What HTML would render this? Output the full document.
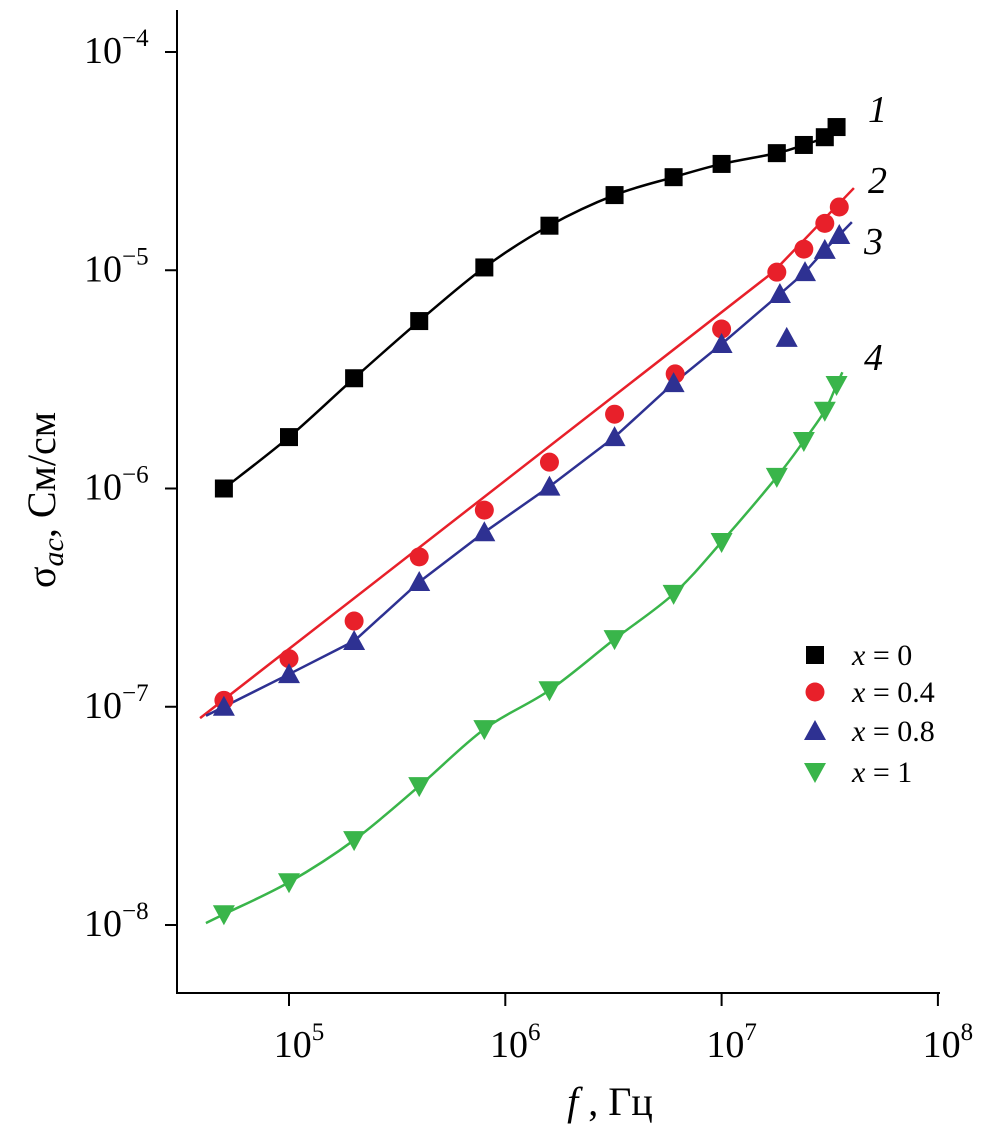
<!DOCTYPE html>
<html><head><meta charset="utf-8"><style>
body{margin:0;background:#fff}
svg, svg text{font-family:"Liberation Serif","Times New Roman",Times,serif}
</style></head><body>
<svg id="chart" width="1004" height="1130" viewBox="0 0 1004 1130" xmlns="http://www.w3.org/2000/svg" font-family="'Liberation Serif', 'Times New Roman', serif">
<g id="axes"></g>
<g id="plot"></g>
<g id="legend"></g>
</svg>
<script>
const xTickExp=[5,6,7,8];
const yTickExp=[-4,-5,-6,-7,-8];
const f1=[5e4,1e5,2e5,4e5,8e5,1.6e6,3.2e6,6e6,1e7,1.8e7,2.4e7,3e7,3.4e7];
const s1=[1.0e-6,1.72e-6,3.2e-6,5.85e-6,1.03e-5,1.6e-5,2.21e-5,2.67e-5,3.07e-5,3.44e-5,3.75e-5,4.07e-5,4.53e-5];
const f2=[5e4,1e5,2e5,4e5,8e5,1.6e6,3.2e6,6.1e6,1e7,1.8e7,2.4e7,3e7,3.5e7];
const s2=[1.07e-7,1.66e-7,2.47e-7,4.86e-7,7.96e-7,1.32e-6,2.19e-6,3.35e-6,5.38e-6,9.8e-6,1.25e-5,1.64e-5,1.95e-5];
const fit2F=[3.88e4,1.73e7,4.09e7];
const fit2S=[8.87e-8,9.8e-6,2.38e-5];
const f3=[5e4,1e5,2e5,4e5,8e5,1.6e6,3.2e6,6e6,1e7,1.86e7,2.0e7,2.43e7,3e7,3.5e7];
const s3=[1.0e-7,1.41e-7,2.0e-7,3.73e-7,6.3e-7,1.02e-6,1.72e-6,3.04e-6,4.59e-6,7.78e-6,4.9e-6,9.8e-6,1.24e-5,1.45e-5];
const f4=[5e4,1e5,2e5,4e5,8e5,1.6e6,3.2e6,6e6,1e7,1.8e7,2.4e7,3e7,3.4e7];
const s4=[1.12e-8,1.57e-8,2.45e-8,4.33e-8,7.9e-8,1.19e-7,2.04e-7,3.29e-7,5.69e-7,1.13e-6,1.65e-6,2.27e-6,2.98e-6];

const NS="http://www.w3.org/2000/svg";
const FF="Liberation Serif, Times New Roman, serif";
function X(f){return 289+(Math.log10(f)-5)*216.3;}
function Y(s){return 925-(Math.log10(s)+8)*218.25;}
function mk(tag,attrs,parent){const e=document.createElementNS(NS,tag);for(const k in attrs)e.setAttribute(k,attrs[k]);if(tag==='text')e.setAttribute('font-family',FF);parent.appendChild(e);return e;}
const axes=document.getElementById('axes'),plot=document.getElementById('plot'),legend=document.getElementById('legend');

let e=mk('line',{x1:177,y1:10,x2:177,y2:994,stroke:'#000','stroke-width':2},axes);


e=mk('line',{x1:176,y1:993,x2:940,y2:993,stroke:'#000','stroke-width':2},axes);


xTickExp.forEach(p=>{const x=X(Math.pow(10,p));
 let t=mk('line',{x1:x,y1:993,x2:x,y2:1006,stroke:'#000','stroke-width':2},axes);
 
 
 let tx=mk('text',{x:x+10,y:1057,'font-size':38,'text-anchor':'middle'},axes);
 
 
 tx.innerHTML='10<tspan dy="-17" font-size="25">'+p+'</tspan>';
});
yTickExp.forEach(p=>{const y=Y(Math.pow(10,p));
 let t=mk('line',{x1:165,y1:y,x2:177,y2:y,stroke:'#000','stroke-width':2},axes);
 
 
 let tx=mk('text',{x:84,y:y+11,'font-size':38},axes);
 
 
 tx.innerHTML='10<tspan dy="-17" font-size="25">\u2212'+(-p)+'</tspan>';
});
let yl=mk('text',{transform:'translate(55,500) rotate(-90)','font-size':40,'text-anchor':'middle'},axes);


yl.innerHTML='σ<tspan font-style="italic" font-size="30" dy="8">ac</tspan><tspan dy="-8">, См/см</tspan>';
let xl=mk('text',{x:610,y:1115,'font-size':40,'text-anchor':'middle'},axes);


xl.innerHTML='<tspan font-style="italic">f</tspan> , Гц';

function pts(fs,ss,skip){const r=[];fs.forEach((f,i)=>{if(skip&&skip.includes(i))return;r.push([X(f),Y(ss[i])]);});return r;}
function extend(p,a,b){const f=p[0],g=p[1];const dx=g[0]-f[0],dy=g[1]-f[1],l=Math.hypot(dx,dy);
 const n=p.length,h=p[n-1],k=p[n-2];const ex=h[0]-k[0],ey=h[1]-k[1],m=Math.hypot(ex,ey);
 return [[f[0]-dx/l*a,f[1]-dy/l*a]].concat(p,[[h[0]+ex/m*b,h[1]+ey/m*b]]);}
function smooth(p){let d='M'+p[0][0]+','+p[0][1];
 for(let i=0;i<p.length-1;i++){const p0=p[Math.max(0,i-1)],p1=p[i],p2=p[i+1],p3=p[Math.min(p.length-1,i+2)];
 d+=' C'+(p1[0]+(p2[0]-p0[0])/6)+','+(p1[1]+(p2[1]-p0[1])/6)+' '+(p2[0]-(p3[0]-p1[0])/6)+','+(p2[1]-(p3[1]-p1[1])/6)+' '+p2[0]+','+p2[1];}
 return d;}
function poly(p){return 'M'+p.map(q=>q[0]+','+q[1]).join(' L');}

let c1=mk('path',{d:smooth(extend(pts(f1,s1),8,10)),fill:'none',stroke:'#000','stroke-width':2.5},plot);


let c2=mk('path',{d:poly(pts(fit2F,fit2S)),fill:'none',stroke:'#e8202a','stroke-width':2.5},plot);


let c3=mk('path',{d:poly(extend(pts(f3,s3,[10]),20,18)),fill:'none',stroke:'#2e3192','stroke-width':2.5},plot);


let c4=mk('path',{d:smooth(extend(pts(f4,s4),20,14)),fill:'none',stroke:'#39b54a','stroke-width':2.5},plot);



function marker(type,x,y,parent){let el;
 if(type==='sq')el=mk('rect',{x:x-9,y:y-9,width:18,height:18,fill:'#000'},parent);
 else if(type==='ci')el=mk('circle',{cx:x,cy:y,r:9.5,fill:'#e8202a'},parent);
 else if(type==='up')el=mk('polygon',{points:(x-11)+','+(y+9)+' '+(x+11)+','+(y+9)+' '+x+','+(y-11),fill:'#2e3192'},parent);
 else el=mk('polygon',{points:(x-11)+','+(y-9)+' '+(x+11)+','+(y-9)+' '+x+','+(y+11),fill:'#39b54a'},parent);
 return el;}
const series=[[f1,s1,'sq','x0'],[f2,s2,'ci','x0.4'],[f3,s3,'up','x0.8'],[f4,s4,'dn','x1']];
series.forEach(s=>{s[0].forEach((f,i)=>{const m=marker(s[2],X(f),Y(s[1][i]),plot);
 
 });});

[['1',868,122],['2',868,193],['3',864,254],['4',864,370]].forEach(l=>{
 const t=mk('text',{x:l[1],y:l[2],'font-size':38,'font-style':'italic'},plot);
 
 
 t.textContent=l[0];});

[['sq','x = 0',655],['ci','x = 0.4',692],['up','x = 0.8',731],['dn','x = 1',772]].forEach(l=>{
 const g=mk('g',{},legend);
 
 
 marker(l[0],815,l[2],g);
 const t=mk('text',{x:852,y:l[2]+10,'font-size':30},g);
 t.innerHTML='<tspan font-style="italic">x</tspan>'+l[1].slice(1);});
</script>
</body></html>
